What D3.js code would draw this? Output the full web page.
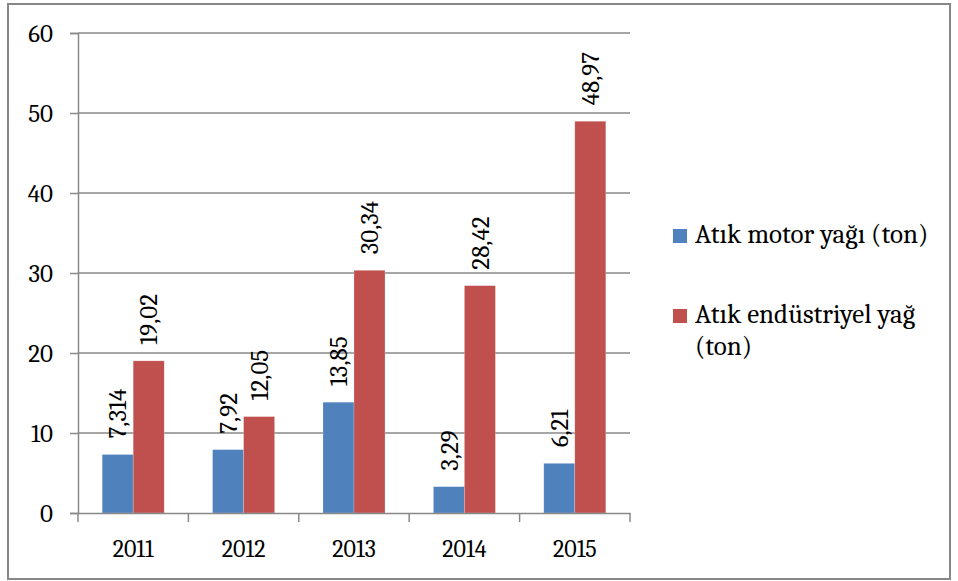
<!DOCTYPE html>
<html>
<head>
<meta charset="utf-8">
<script src="https://cdn.jsdelivr.net/npm/d3@7/dist/d3.min.js"></script>
<style>
  body { margin: 0; background: #fff; }
</style>
</head>
<body>
<div id="chart"></div>
<script>
/** Chart data */
const years = ["2011", "2012", "2013", "2014", "2015"];
const motorOil = [7.314, 7.92, 13.85, 3.29, 6.21];
const industrialOil = [19.02, 12.05, 30.34, 28.42, 48.97];
const motorLabels = ["7,314", "7,92", "13,85", "3,29", "6,21"];
const industrialLabels = ["19,02", "12,05", "30,34", "28,42", "48,97"];
const seriesNames = ["Atık motor yağı (ton)", ["Atık endüstriyel yağ", "(ton)"]];
const yTicks = [0, 10, 20, 30, 40, 50, 60];

/** Graph configs */
const W = 958, H = 581;
const plot = { left: 78, right: 630, top: 33, bottom: 513 };
const colors = ["#4F81BD", "#C0504D"];
const font = "Cambria";

const svg = d3.select("#chart").append("svg")
  .attr("width", W).attr("height", H);

// outer frame
svg.append("rect")
  .attr("x", 8).attr("y", 4).attr("width", 942).attr("height", 575)
  .attr("fill", "none").attr("stroke", "#878787").attr("stroke-width", 2);

const x = d3.scaleBand().domain(years).range([plot.left, plot.right]);
const y = d3.scaleLinear().domain([0, 60]).range([plot.bottom, plot.top]);
const xSub = d3.scaleBand().domain([0, 1]).range([0, x.bandwidth()]).paddingOuter(0.78).paddingInner(0);

// gridlines + y labels
const yAxis = svg.append("g").attr("transform", `translate(${plot.left},0)`)
  .call(d3.axisLeft(y).tickValues(yTicks).tickSize(8).tickPadding(17).tickFormat(d3.format("d")))
  .attr("font-family", font).attr("font-size", 25);
yAxis.select(".domain").attr("stroke", "#888").attr("stroke-width", 1.5);
yAxis.selectAll(".tick line").attr("stroke", "#888").attr("stroke-width", 1.5);
yAxis.selectAll(".tick text").attr("fill", "#000");

svg.append("g").selectAll("line").data(yTicks.slice(1)).join("line")
  .attr("x1", plot.left).attr("x2", plot.right)
  .attr("y1", (d) => y(d)).attr("y2", (d) => y(d))
  .attr("stroke", "#888").attr("stroke-width", 1.5);

// bars
const series = [motorOil, industrialOil];
const labels = [motorLabels, industrialLabels];
series.forEach((vals, s) => {
  const g = svg.append("g").attr("font-family", font).attr("font-size", 25);
  g.selectAll("rect").data(vals).join("rect")
    .attr("x", (d, i) => x(years[i]) + xSub(s))
    .attr("y", (d) => y(d))
    .attr("width", xSub.bandwidth())
    .attr("height", (d) => y(0) - y(d))
    .attr("fill", colors[s])
    .attr("stroke", "#fff").attr("stroke-opacity", 0.35).attr("stroke-width", 0.6);

  g.selectAll("text").data(vals).join("text")
    .attr("transform", (d, i) => {
      const cx = x(years[i]) + xSub(s) + xSub.bandwidth() / 2;
      return `translate(${cx},${y(d) - 16}) rotate(-90)`;
    })
    .attr("dy", "0.35em")
    .text((d, i) => labels[s][i]);
});

// x axis
const xAxis = svg.append("g").attr("transform", `translate(0,${plot.bottom})`)
  .call(d3.axisBottom(x).tickSize(0).tickPadding(27))
  .attr("font-family", font).attr("font-size", 24);
xAxis.select(".domain").attr("stroke", "#888").attr("stroke-width", 1.5);
xAxis.selectAll(".tick text").attr("fill", "#000");
svg.append("g").selectAll("line").data(years.map((d) => x(d)).concat([plot.right])).join("line")
  .attr("x1", (d) => d).attr("x2", (d) => d)
  .attr("y1", plot.bottom).attr("y2", plot.bottom + 9)
  .attr("stroke", "#888").attr("stroke-width", 1.5);

// legend
const legend = svg.append("g").attr("font-family", font).attr("font-size", 27);
const legendY = [243, 323];
seriesNames.forEach((name, i) => {
  legend.append("rect")
    .attr("x", 673).attr("y", legendY[i] - 14)
    .attr("width", 14).attr("height", 14)
    .attr("fill", colors[i]);
  const lines = Array.isArray(name) ? name : [name];
  const t = legend.append("text").attr("x", 695).attr("y", legendY[i]);
  lines.forEach((line, j) => {
    t.append("tspan").attr("x", 695).attr("dy", j === 0 ? 0 : 32).text(line);
  });
});
</script>
</body>
</html>
